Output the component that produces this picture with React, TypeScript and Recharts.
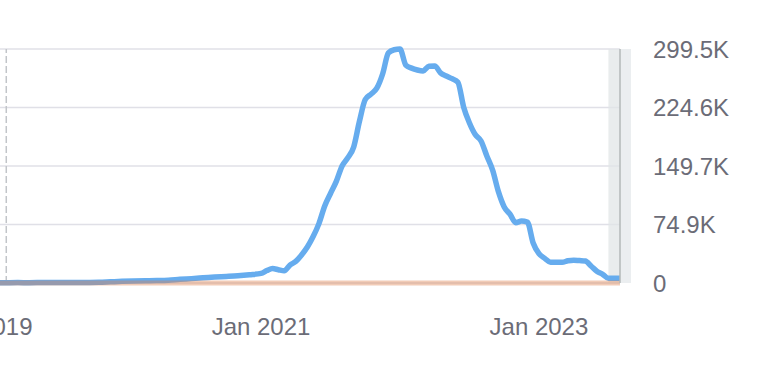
import React from 'react';
import { LineChart, Line, XAxis, YAxis, CartesianGrid, ReferenceLine, ReferenceArea } from 'recharts';

// months counted from Jan 2019 (0); half-month steps once the curve starts moving
const months = [
  -5, -4, -3, -2, -1, 0, 1, 2, 3, 4, 5, 6, 7, 8, 9, 10, 11, 12, 13, 14, 15, 16, 17, 18, 19, 20, 21, 22, 23,
  24, 24.5, 25, 25.5, 26, 26.5, 27, 27.5, 28, 28.5, 29, 29.5, 30, 30.5, 31, 31.5, 32, 32.5, 33, 33.5, 34, 34.5,
  35, 35.5, 36, 36.5, 37, 37.5, 38, 38.5, 39, 39.5, 40, 40.5, 41, 41.5, 42, 42.5, 43, 43.5, 44, 44.5, 45, 45.5,
  46, 46.5, 47, 47.5, 48, 48.5, 49, 49.5, 50, 50.5, 51, 51.5, 52, 52.5, 53, 53.5, 54, 54.5, 55,
];

const totalValues = [
  300, 350, 300, 400, 350, 400, 450, 400, 500, 450, 500, 550, 500, 600, 700, 900, 1500, 2100, 2500, 2800, 3100,
  3600, 4700, 5600, 6600, 7600, 8400, 9300, 10600,
  12300, 15900, 18400, 17000, 15700, 23000, 27600, 35800, 46000, 59400, 76000, 98600, 114600, 130000, 149800,
  160400, 174000, 207000, 234800, 241700, 249300, 267500, 294500, 298600, 299500, 279000, 275000, 272600,
  271400, 277500, 277800, 269000, 265000, 261500, 257000, 225000, 204800, 190000, 181800, 162600, 144400,
  116900, 97400, 88000, 77200, 79200, 78000, 51200, 37600, 31500, 26500, 26500, 26500, 28400, 29200, 28700,
  28200, 21800, 15000, 11100, 6000, 6000, 6000,
];

const baseValues = months.map(() => 0);

const yTicks = [0, 74875, 149750, 224625, 299500];
const yTickLabels = ['0', '74.9K', '149.7K', '224.6K', '299.5K'];
const xTicks = [0, 24, 48];
const xTickLabels = ['Jan 2019', 'Jan 2021', 'Jan 2023'];

const rows = months.map((m, i) => ({ m, total: totalValues[i], base: baseValues[i] }));

const tickStyle = { fill: '#6b6c77', fontSize: 24, fontFamily: '"Liberation Sans", Helvetica, Arial, sans-serif' };

export default function App() {
  return (
    <div style={{ position: 'absolute', left: 0, top: 0, width: 762, height: 370, overflow: 'hidden', background: '#fff' }}>
      <div style={{ position: 'absolute', left: -80, top: 0 }}>
        <LineChart width={842} height={370} data={rows} margin={{ top: 49, right: 0, left: 0, bottom: 27 }}>
          <CartesianGrid vertical={false} stroke="#e0e0e7" strokeWidth={1.5} />
          <XAxis
            dataKey="m"
            type="number"
            domain={[-5.45, 55]}
            allowDataOverflow
            ticks={xTicks}
            tickFormatter={(v: number) => xTickLabels[xTicks.indexOf(v)]}
            axisLine={false}
            tickLine={false}
            tickSize={0}
            tickMargin={35}
            height={60}
            tick={tickStyle}
          />
          <YAxis
            orientation="right"
            domain={[0, 299500]}
            ticks={yTicks}
            tickFormatter={(v: number) => yTickLabels[yTicks.indexOf(v)]}
            axisLine={false}
            tickLine={false}
            tickSize={0}
            tickMargin={33}
            width={142}
            tick={{ ...tickStyle, textAnchor: 'start' }}
          />
          <ReferenceLine x={2} stroke="#c2c5c9" strokeWidth={1.5} strokeDasharray="7 3" />
          <ReferenceArea x1={55} x2={55.95} ifOverflow="visible" fill="#ebeef0" fillOpacity={1} stroke="none" />
          <Line type="monotone" dataKey="total" stroke="#66acee" strokeWidth={5.5} dot={false} isAnimationActive={false} />
          <Line type="monotone" dataKey="base" stroke="#df7f4a" strokeOpacity={0.4} strokeWidth={5} dot={false} isAnimationActive={false} />
          <ReferenceArea x1={54} x2={55} fill="#e2e6e7" fillOpacity={0.75} stroke="none" />
          <ReferenceLine x={55} stroke="#b3b9b9" strokeWidth={1.5} />
        </LineChart>
      </div>
    </div>
  );
}
